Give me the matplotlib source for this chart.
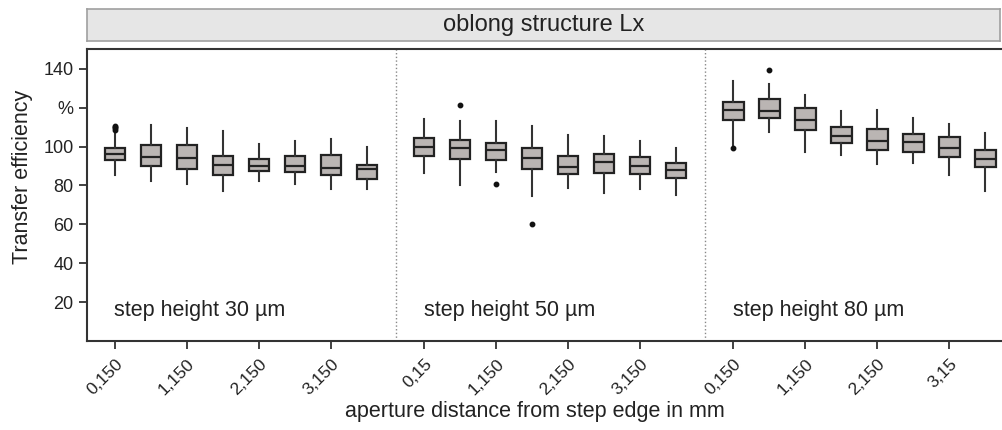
import numpy as np
import matplotlib
matplotlib.use("Agg")
import matplotlib.pyplot as plt

plt.rcParams["font.family"] = ["Liberation Sans", "DejaVu Sans"]

# one entry per box, three step heights with eight boxes each
groups = ["step height 30 µm", "step height 50 µm", "step height 80 µm"]

whisker_lo = [85.5, 82.1, 80.9, 77.3, 82.4, 80.7, 78.3, 78.3,
              86.4, 80.4, 86.9, 74.7, 78.5, 76.1, 78.1, 75.2,
              101.0, 107.4, 97.1, 95.7, 91.2, 91.4, 85.4, 77.3]
q1 = [92.9, 90.2, 88.5, 85.5, 87.2, 86.9, 85.5, 83.3,
      95.0, 93.8, 92.9, 88.5, 85.7, 86.4, 85.7, 83.8,
      113.8, 114.5, 108.3, 101.6, 98.1, 97.4, 94.5, 89.3]
med = [96.0, 94.7, 94.2, 90.3, 90.2, 90.2, 89.1, 88.5,
       99.6, 99.3, 98.1, 94.2, 89.5, 91.9, 89.8, 87.8,
       118.8, 118.1, 113.8, 105.2, 102.6, 102.4, 99.3, 93.8]
q3 = [99.1, 101.0, 100.9, 95.3, 93.6, 95.3, 95.7, 90.5,
      104.3, 103.3, 101.6, 99.0, 95.0, 96.2, 94.7, 91.7,
      123.1, 124.3, 119.6, 109.8, 108.8, 106.7, 105.0, 98.1]
whisker_hi = [107.9, 111.0, 109.7, 107.9, 101.4, 103.1, 104.1, 99.8,
              114.0, 113.3, 113.1, 110.5, 105.7, 105.3, 103.1, 99.3,
              133.6, 132.4, 126.5, 118.4, 118.6, 114.5, 111.4, 106.9]
outliers = [[108.5, 109.3, 110.0, 110.7], [], [], [], [], [], [], [],
            [], [121.2], [80.7], [60.0], [], [], [], [],
            [99.5], [139.6], [], [], [], [], [], []]

tick_labels = [["0,150", "1,150", "2,150", "3,150"],
               ["0,15", "1,150", "2,150", "3,150"],
               ["0,150", "1,150", "2,150", "3,15"]]

n_per = 8
gap = 8.59
positions = [g * gap + i for g in range(len(groups)) for i in range(n_per)]

stats = []
for k in range(len(positions)):
    stats.append(dict(med=med[k], q1=q1[k], q3=q3[k],
                      whislo=whisker_lo[k], whishi=whisker_hi[k],
                      fliers=outliers[k]))

fig = plt.figure(figsize=(10.02, 4.30), dpi=100)
ax = fig.add_axes([86.7 / 1002, 1 - 341 / 430, 1 - 86.7 / 1002, (341 - 49.3) / 430])

dark = "#333333"
ax.bxp(stats, positions=positions, widths=0.56, patch_artist=True,
       showcaps=False,
       boxprops=dict(facecolor="#bab5b3", edgecolor="#222222", linewidth=1.6),
       medianprops=dict(color="#222222", linewidth=1.6),
       whiskerprops=dict(color="#333333", linewidth=1.5),
       flierprops=dict(marker="o", markersize=3.2, markerfacecolor="#111111",
                       markeredgecolor="#111111"))

ax.set_xlim(-0.786, 24.64)
ax.set_ylim(0, 150)

# dotted separators between step heights
for g in range(1, len(groups)):
    ax.axvline(g * gap - (gap - 7) / 2, color="#888888", linestyle=":", linewidth=1)

for g, name in enumerate(groups):
    ax.text(g * gap - 0.02, 15.5, name, fontsize=15.5, va="center", ha="left", color="#222222")

xt, xl = [], []
for g in range(len(groups)):
    for j in range(4):
        xt.append(g * gap + 2 * j)
        xl.append(tick_labels[g][j])
ax.set_xticks(xt)
ax.set_xticklabels(xl, rotation=45, ha="right", rotation_mode="anchor", fontsize=12.5, color="#222222")

ax.set_yticks([20, 40, 60, 80, 100, 120, 140])
ax.set_yticklabels(["20", "40", "60", "80", "100", "%", "140"], fontsize=13, color="#222222")
ax.tick_params(axis="both", direction="out", length=6, width=1.3, color=dark)
ax.tick_params(axis="x", pad=5)

for s in ["left", "bottom", "top"]:
    ax.spines[s].set_color(dark)
    ax.spines[s].set_linewidth(1.5)
ax.spines["right"].set_visible(False)

ax.set_ylabel("Transfer efficiency", fontsize=15.5, color="#222222")
ax.yaxis.set_label_coords(-0.059, 0.564)
ax.set_xlabel("aperture distance from step edge in mm", fontsize=15.5, color="#222222")
ax.xaxis.set_label_coords(0.49, -0.205)

# grey strip with the panel title
strip = fig.add_axes([86.7 / 1002, 1 - 41 / 430, 1 - 86.7 / 1002 - 0.002, 32 / 430])
strip.set_facecolor("#e6e6e6")
strip.set_xticks([])
strip.set_yticks([])
for s in strip.spines.values():
    s.set_color("#a0a0a0")
    s.set_linewidth(1.2)
strip.text(0.5, 0.5, "oblong structure Lx", fontsize=17, ha="center", va="center",
           color="#222222", transform=strip.transAxes)

fig.savefig("out.png", dpi=100)
